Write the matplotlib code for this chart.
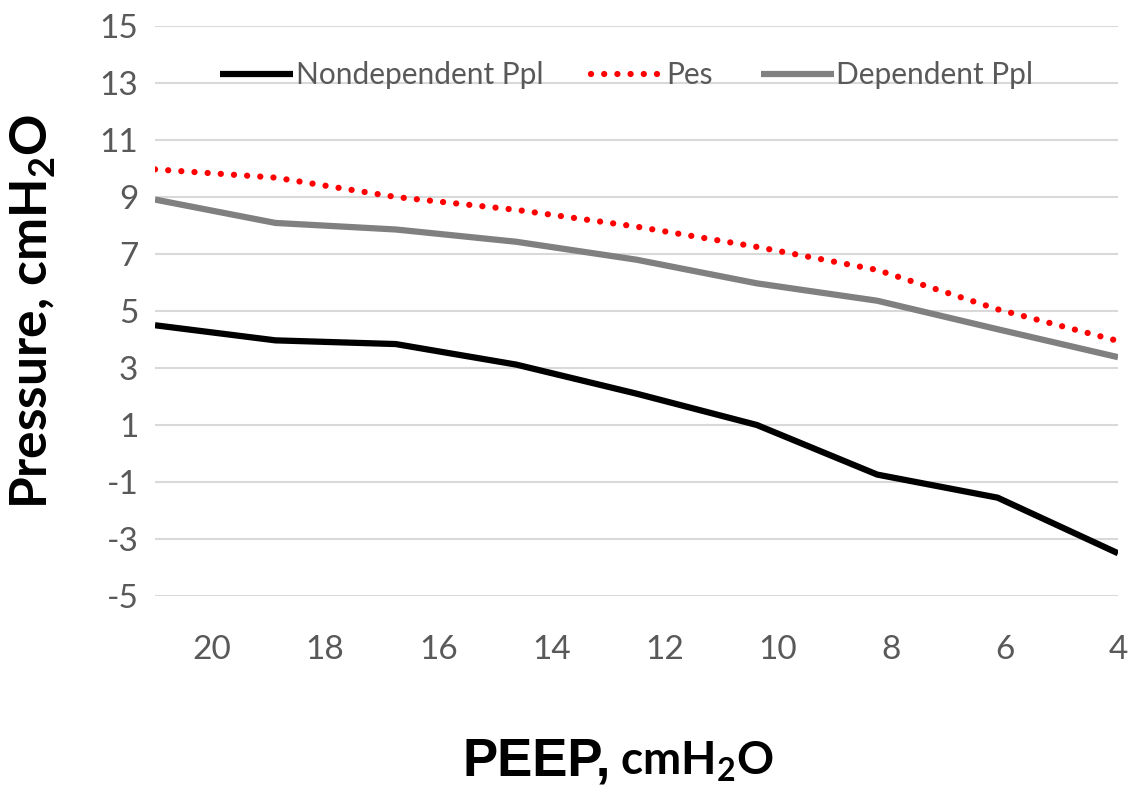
import matplotlib
matplotlib.use("Agg")
import matplotlib.pyplot as plt

# Data
peep = [21, 18.875, 16.75, 14.625, 12.5, 10.375, 8.25, 6.125, 4]
nondependent_ppl = [4.5, 3.97, 3.84, 3.12, 2.1, 1.0, -0.74, -1.55, -3.5]
pes = [9.97, 9.68, 9.0, 8.55, 7.96, 7.25, 6.44, 5.06, 3.95]
dependent_ppl = [8.91, 8.09, 7.86, 7.43, 6.8, 5.97, 5.36, 4.36, 3.38]
x_ticks = [20, 18, 16, 14, 12, 10, 8, 6, 4]
y_ticks = [-5, -3, -1, 1, 3, 5, 7, 9, 11, 13, 15]

plt.rcParams['mathtext.fontset'] = 'custom'
plt.rcParams['mathtext.bf'] = 'Lato:bold'
plt.rcParams['mathtext.rm'] = 'Lato'
plt.rcParams['axes.unicode_minus'] = False

cal = ['Lato', 'DejaVu Sans']
tick_color = '#595959'

fig = plt.figure(figsize=(11.33, 7.94), dpi=100)
ax = fig.add_axes([155/1133, 1-596/794, 963/1133, 570/794])

ax.plot(peep, nondependent_ppl, color='black', lw=4.5, solid_capstyle='butt',
        label='Nondependent Ppl', zorder=3)
ax.plot(peep, pes, color='#ff0000', lw=4.5, linestyle=(0, (0.01, 2.1)),
        dash_capstyle='round', label='Pes', zorder=3)
ax.plot(peep, dependent_ppl, color='#808080', lw=4.5, solid_capstyle='butt',
        label='Dependent Ppl', zorder=3)

ax.set_xlim(21, 4)
ax.set_ylim(-5, 15)
ax.set_xticks(x_ticks)
ax.set_yticks(y_ticks)
ax.grid(axis='y', color='#d9d9d9', lw=1.5, zorder=0)
for s in ax.spines.values():
    s.set_visible(False)
ax.tick_params(axis='both', length=0, labelcolor=tick_color, labelsize=24)
ax.tick_params(axis='x', pad=28)
ax.tick_params(axis='y', pad=12)
for lab in ax.get_xticklabels() + ax.get_yticklabels():
    lab.set_family(cal)

leg = ax.legend(loc='center', bbox_to_anchor=(0.49, 0.914), ncol=3, frameon=False,
                handlelength=2.45, handletextpad=0.08, columnspacing=1.6,
                prop={'family': cal, 'size': 21.5})
for t in leg.get_texts():
    t.set_color(tick_color)

fig.text(33/1133, 1-311/794, r'Pressure, cmH$_\mathbf{2}$O', rotation=90,
         ha='center', va='center', fontsize=37, fontweight='bold', family=cal)

t1 = fig.text(463/1133, 1-775/794, 'PEEP,', ha='left', va='baseline',
              fontsize=38, fontweight='bold', family=['Liberation Sans', 'DejaVu Sans'])
fig.canvas.draw()
bb = t1.get_window_extent(renderer=fig.canvas.get_renderer())
fig.text((bb.x1 + 9) / fig.bbox.width, 1-775/794, r'cmH$_\mathbf{2}$O', ha='left',
         va='baseline', fontsize=33, fontweight='bold', family=cal)
fig.savefig('out.png', dpi=100)
